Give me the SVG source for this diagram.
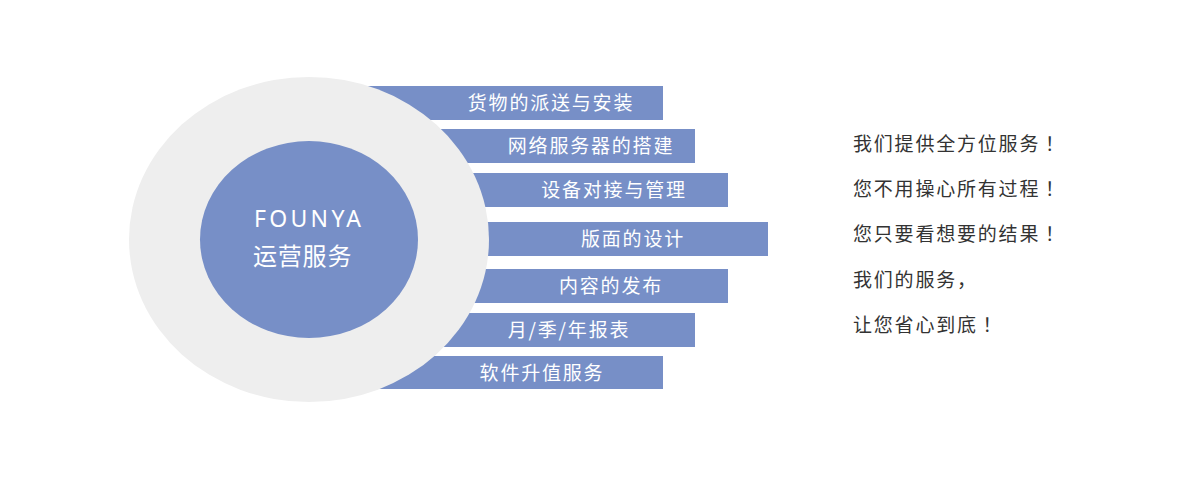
<svg xmlns="http://www.w3.org/2000/svg" width="1200" height="477" viewBox="0 0 1200 477">
<style>
.bar{fill:#778fc7}
.bt{font-family:"Noto Sans CJK SC","Noto Sans",sans-serif;font-size:19px;fill:#ffffff;letter-spacing:1.8px;text-anchor:middle}
.rt{font-family:"Noto Sans CJK SC","Noto Sans",sans-serif;font-size:19px;fill:#333333;letter-spacing:1.8px}
.ex{font-family:"Noto Sans CJK TC",sans-serif}
.ct{font-family:"Noto Sans","Noto Sans CJK SC",sans-serif;fill:#ffffff}
</style>
<rect width="1200" height="477" fill="#ffffff"/>
<g id="bars">
<g id="bar1"><rect class="bar" x="320" y="86" width="343" height="34"/><text class="bt" x="551" y="110">货物的派送与安装</text></g>
<g id="bar2"><rect class="bar" x="320" y="129" width="375" height="34"/><text class="bt" x="591" y="153">网络服务器的搭建</text></g>
<g id="bar3"><rect class="bar" x="320" y="173" width="408" height="34"/><text class="bt" x="614" y="197">设备对接与管理</text></g>
<g id="bar4"><rect class="bar" x="320" y="222" width="448" height="34"/><text class="bt" x="633" y="246">版面的设计</text></g>
<g id="bar5"><rect class="bar" x="320" y="269" width="408" height="34"/><text class="bt" x="611" y="293">内容的发布</text></g>
<g id="bar6"><rect class="bar" x="320" y="313" width="375" height="34"/><text class="bt" x="569" y="337">月/季/年报表</text></g>
<g id="bar7"><rect class="bar" x="320" y="356" width="343" height="33"/><text class="bt" x="542" y="380">软件升值服务</text></g>
</g>
<g id="outer"><ellipse cx="309" cy="239.5" rx="180" ry="162.5" fill="#eeeeee"/></g>
<g id="center">
<ellipse cx="309" cy="239.5" rx="109" ry="98.5" fill="#778fc7"/>
<text class="ct" x="254" y="227" font-size="23" letter-spacing="3.3">FOUNYA</text>
<text class="ct" x="253" y="265" font-size="24" letter-spacing="0.8" font-family="Noto Sans CJK SC, sans-serif">运营服务</text>
</g>
<g id="slogan">
<text class="rt" x="853" y="151">我们提供全方位服务<tspan class="ex">！</tspan></text>
<text class="rt" x="853" y="196">您不用操心所有过程<tspan class="ex">！</tspan></text>
<text class="rt" x="853" y="241">您只要看想要的结果<tspan class="ex">！</tspan></text>
<text class="rt" x="853" y="287">我们的服务，</text>
<text class="rt" x="853" y="332">让您省心到底<tspan class="ex">！</tspan></text>
</g>
<g id="connectors"></g>
</svg>
